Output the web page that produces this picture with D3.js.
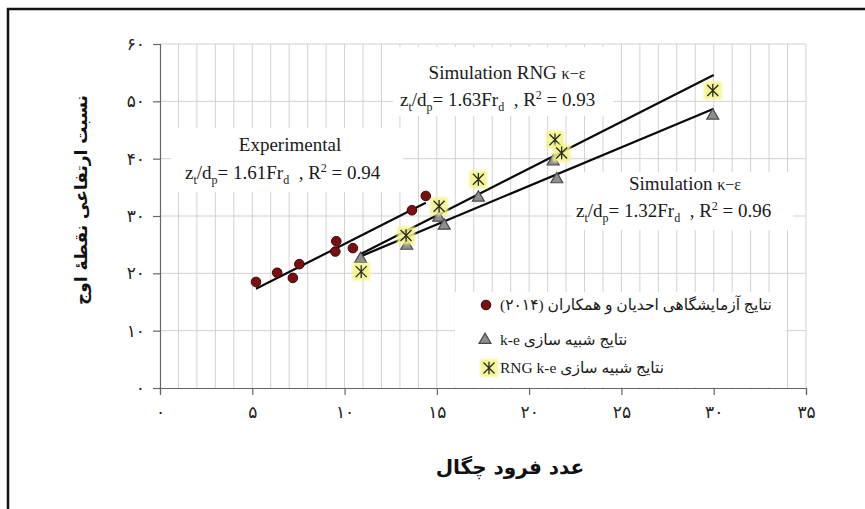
<!DOCTYPE html>
<html>
<head>
<meta charset="utf-8">
<script src="https://cdn.jsdelivr.net/npm/d3@7"></script>
<style>
body { margin: 0; background: #fff; }
svg { display: block; }
</style>
</head>
<body>
<div id="graph"></div>
<script>
// experimental points (Ahadian et al. 2014)
var expX = [5.2, 6.35, 7.2, 7.55, 9.5, 9.55, 10.45, 13.65, 14.4]
var expY = [18.5, 20.1, 19.2, 21.6, 23.8, 25.6, 24.4, 31.0, 33.5]
// k-e simulation
var keX = [10.87, 13.37, 15.1, 15.4, 17.25, 21.3, 21.5, 29.95]
var keY = [22.5, 24.8, 29.7, 28.3, 33.2, 39.5, 36.4, 47.5]
// RNG k-e simulation
var rngX = [10.9, 13.33, 15.12, 17.25, 21.4, 21.76, 29.95]
var rngY = [20.3, 26.6, 31.7, 36.4, 43.3, 41.0, 51.9]

// trend lines (end points)
var expFitX = [5.2, 14.4], expFitY = [17.3, 32.3]
var keFitX = [10.9, 30], keFitY = [23.0, 48.7]
var rngFitX = [10.9, 30], rngFitY = [23.4, 54.6]

var fitNames = ['Experimental', 'Simulation RNG ', 'Simulation ']
var fitCoef = ['1.61', '1.63', '1.32']
var fitR2 = ['0.94', '0.93', '0.96']

var xTicks = [0, 5, 10, 15, 20, 25, 30, 35]
var xTickLabels = ['۰', '۵', '۱۰', '۱۵', '۲۰', '۲۵', '۳۰', '۳۵']
var yTicks = [0, 10, 20, 30, 40, 50, 60]
var yTickLabels = ['۰', '۱۰', '۲۰', '۳۰', '۴۰', '۵۰', '۶۰']

var legendLabels = ['نتایج آزمایشگاهی احدیان و همکاران (۲۰۱۴)', 'نتایج شبیه سازی k-e', 'نتایج شبیه سازی RNG k-e']
var xTitle = 'عدد فرود چگال'
var yTitle = 'نسبت ارتفاعی نقطهٔ اوج'

var width = 865, height = 509
var svg = d3.select('#graph').append('svg')
	.attr('width', width)
	.attr('height', height)

var serif = "'Liberation Serif', 'DejaVu Sans', serif"
var persian = "'DejaVu Sans', sans-serif"

// outer frame, cut by the picture on the right and bottom
svg.append('rect')
	.attr('x', 8).attr('y', 9)
	.attr('width', 900).attr('height', 600)
	.attr('fill', 'none').attr('stroke', '#111').attr('stroke-width', 2.5)

var xScale = d3.scaleLinear().domain([0, 35]).range([160, 806])
var yScale = d3.scaleLinear().domain([0, 60]).range([388, 44])

var defs = svg.append('defs')
defs.append('filter').attr('id', 'soft')
	.append('feGaussianBlur').attr('stdDeviation', 1.3)

// grid
svg.append('g').selectAll('line')
	.data(d3.range(1, 36))
	.enter().append('line')
	.attr('x1', function(d) { return xScale(d) })
	.attr('x2', function(d) { return xScale(d) })
	.attr('y1', yScale(0)).attr('y2', yScale(60))
	.attr('stroke', '#d2d2d2').attr('stroke-width', 1)

svg.append('g').selectAll('line')
	.data(yTicks.slice(1))
	.enter().append('line')
	.attr('y1', function(d) { return yScale(d) })
	.attr('y2', function(d) { return yScale(d) })
	.attr('x1', xScale(0)).attr('x2', xScale(35))
	.attr('stroke', '#d2d2d2').attr('stroke-width', 1)

// white boxes behind the annotations and the legend
var boxes = [[171, 128, 232, 64], [393, 47, 220, 69], [572, 172, 221, 58], [455, 292, 331, 95]]
svg.append('g').selectAll('rect')
	.data(boxes)
	.enter().append('rect')
	.attr('x', function(d) { return d[0] })
	.attr('y', function(d) { return d[1] })
	.attr('width', function(d) { return d[2] })
	.attr('height', function(d) { return d[3] })
	.attr('fill', '#fff')

// axes
var xAxis = d3.axisBottom(xScale)
	.tickValues(xTicks)
	.tickFormat(function(d, i) { return xTickLabels[i] })
	.tickSize(7).tickPadding(11)
var yAxis = d3.axisLeft(yScale)
	.tickValues(yTicks)
	.tickFormat(function(d, i) { return yTickLabels[i] })
	.tickSize(7).tickPadding(8)

var gx = svg.append('g').attr('transform', 'translate(0,' + yScale(0) + ')').call(xAxis)
var gy = svg.append('g').attr('transform', 'translate(' + xScale(0) + ',0)').call(yAxis)
;[gx, gy].forEach(function(g) {
	g.select('.domain').attr('stroke', '#666').attr('stroke-width', 1.2)
	g.selectAll('.tick line').attr('stroke', '#666').attr('stroke-width', 1.2)
	g.selectAll('.tick text')
		.attr('fill', '#222')
		.style('font-family', persian)
		.style('font-size', '17px')
})

// trend lines
var line = d3.line()
	.x(function(d) { return xScale(d[0]) })
	.y(function(d) { return yScale(d[1]) })
;[[expFitX, expFitY], [keFitX, keFitY], [rngFitX, rngFitY]].forEach(function(f) {
	svg.append('path')
		.datum(d3.zip(f[0], f[1]))
		.attr('d', line)
		.attr('fill', 'none')
		.attr('stroke', '#0a0a0a')
		.attr('stroke-width', 2.2)
})

// markers
function starPath(s) {
	return 'M' + (-s) + ',' + (-s) + 'L' + s + ',' + s +
		'M' + (-s) + ',' + s + 'L' + s + ',' + (-s) +
		'M0,' + (-s * 1.15) + 'L0,' + (s * 1.15)
}
function drawStar(g, cx, cy) {
	g.append('rect')
		.attr('x', cx - 9).attr('y', cy - 9)
		.attr('width', 18).attr('height', 18)
		.attr('fill', '#f3f38a').attr('opacity', 0.85)
		.attr('filter', 'url(#soft)')
	g.append('path')
		.attr('d', starPath(5.5))
		.attr('transform', 'translate(' + cx + ',' + cy + ')')
		.attr('stroke', '#2a2a1a').attr('stroke-width', 1.3).attr('fill', 'none')
}
function drawTri(g, cx, cy) {
	g.append('path')
		.attr('d', d3.symbol(d3.symbolTriangle, 62)())
		.attr('transform', 'translate(' + cx + ',' + cy + ')')
		.attr('fill', '#8f8f8f').attr('stroke', '#4a4a4a').attr('stroke-width', 1.2)
}
function drawDot(g, cx, cy) {
	g.append('circle')
		.attr('cx', cx).attr('cy', cy).attr('r', 4.8)
		.attr('fill', '#7a0f12').attr('stroke', '#3c0406').attr('stroke-width', 1)
}

var marks = svg.append('g')
keX.forEach(function(d, i) { drawTri(marks, xScale(d), yScale(keY[i])) })
rngX.forEach(function(d, i) { drawStar(marks, xScale(d), yScale(rngY[i])) })
expX.forEach(function(d, i) { drawDot(marks, xScale(d), yScale(expY[i])) })

// annotations
function eqText(x, y, i) {
	var t = svg.append('text')
		.attr('x', x).attr('y', y)
		.style('font-family', serif).style('font-size', '19px')
		.attr('fill', '#1a1a1a')
	t.append('tspan').text('z')
	t.append('tspan').attr('dy', 5).style('font-size', '12px').text('t')
	t.append('tspan').attr('dy', -5).text('/d')
	t.append('tspan').attr('dy', 5).style('font-size', '12px').text('p')
	t.append('tspan').attr('dy', -5).text('= ' + fitCoef[i] + 'Fr')
	t.append('tspan').attr('dy', 5).style('font-size', '12px').text('d')
	t.append('tspan').attr('dy', -5).text('\u00a0\u00a0, R')
	t.append('tspan').attr('dy', -7).style('font-size', '12px').text('2')
	t.append('tspan').attr('dy', 7).text(' = ' + fitR2[i])
}
function nameText(x, y, i, greek) {
	var t = svg.append('text')
		.attr('x', x).attr('y', y)
		.attr('text-anchor', 'middle')
		.style('font-family', serif).style('font-size', '19px')
		.attr('fill', '#1a1a1a')
		.text(fitNames[i])
	if (greek) t.append('tspan').style('font-size', '16px').text('κ−ε')
}
nameText(290, 151, 0, false)
eqText(185, 179, 0)
nameText(507, 79, 1, true)
eqText(400, 106, 1)
nameText(685, 190, 2, true)
eqText(576, 217, 2)

// legend
var leg = svg.append('g')
drawDot(leg, 486, 305)
drawTri(leg, 485, 340)
drawStar(leg, 489, 368)
leg.selectAll('text')
	.data(legendLabels)
	.enter().append('text')
	.attr('x', 500)
	.attr('y', function(d, i) { return [310, 345, 373][i] })
	.attr('direction', 'rtl')
	.attr('text-anchor', 'end')
	.style('font-family', serif)
	.style('font-size', '15.5px')
	.attr('fill', '#1a1a1a')
	.text(function(d) { return d })

// axis titles
svg.append('text')
	.attr('x', 510).attr('y', 474)
	.attr('text-anchor', 'middle')
	.attr('direction', 'rtl')
	.style('font-family', persian).style('font-size', '20px').style('font-weight', 'bold')
	.attr('fill', '#111')
	.text(xTitle)

svg.append('text')
	.attr('transform', 'translate(87,200) rotate(-90)')
	.attr('text-anchor', 'middle')
	.attr('direction', 'rtl')
	.style('font-family', persian).style('font-size', '17px').style('font-weight', 'bold')
	.attr('fill', '#111')
	.text(yTitle)
</script>
</body>
</html>
